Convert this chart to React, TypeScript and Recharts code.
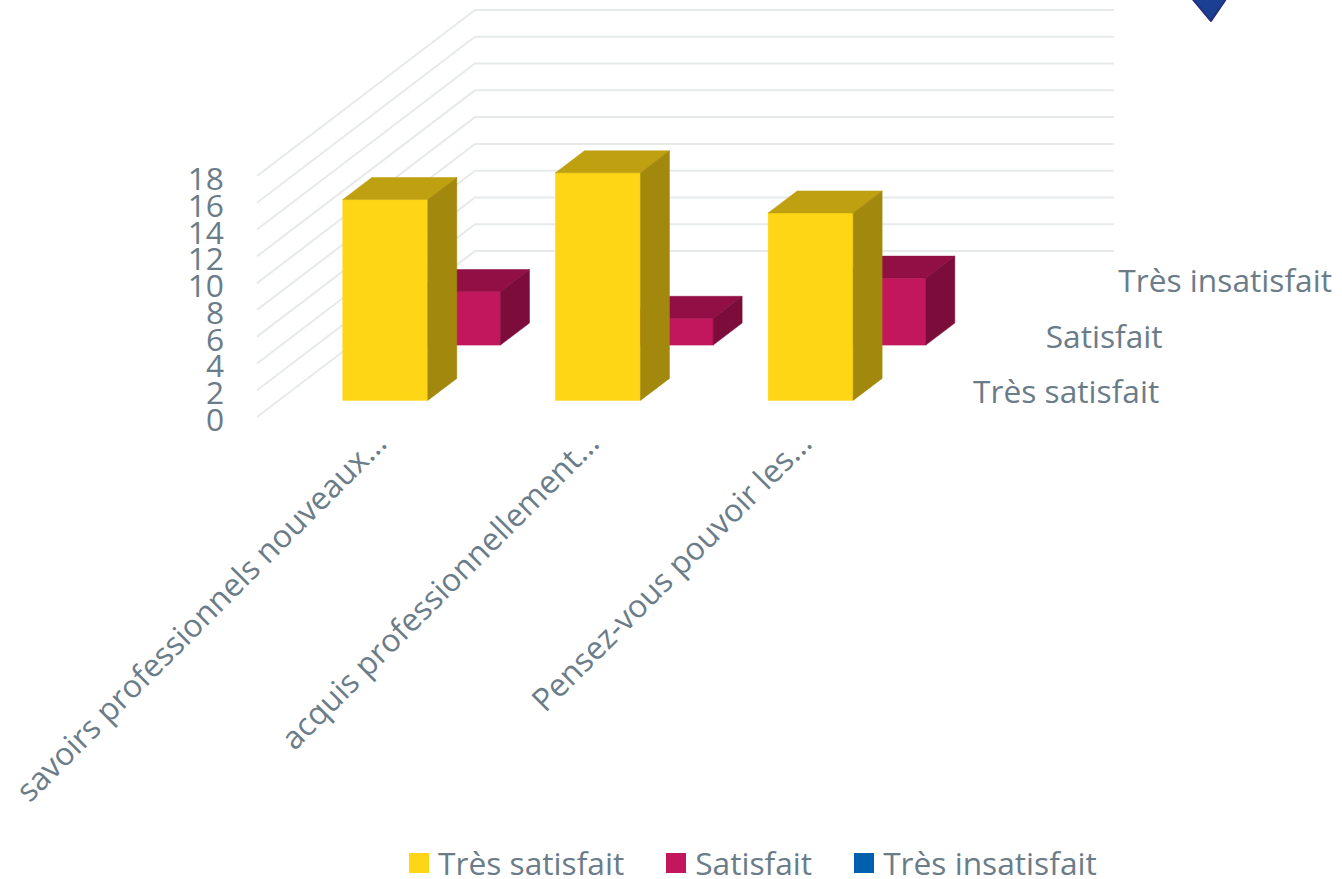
import React from 'react'
import { BarChart, Bar, XAxis, YAxis, CartesianGrid, Legend } from 'recharts'

const categories = [
  'savoirs professionnels nouveaux...',
  'acquis professionnellement...',
  'Pensez-vous pouvoir les...',
]
const tresSatisfait = [15, 17, 14]
const satisfait = [4, 2, 5]
const tresInsatisfait = [0, 0, 0]
const yTicks = [0, 2, 4, 6, 8, 10, 12, 14, 16, 18]
const seriesNames = ['Très satisfait', 'Satisfait', 'Très insatisfait']

const chartData = categories.map((name, i) => ({
  name,
  [seriesNames[0]]: tresSatisfait[i],
  [seriesNames[1]]: satisfait[i],
  [seriesNames[2]]: tresInsatisfait[i],
}))

const textColor = '#6b7c89'
const gridColor = '#e7eaeb'
const font = '"Open Sans", sans-serif'
const fontSize = 31.7

// oblique projection of the depth axis
const wallDx = 218
const wallDy = 166
const rowCount = 3
const barDepthX = 29
const barDepthY = 22

const rowDx = (row: number) => (wallDx / rowCount) * (row + 0.3)
const rowDy = (row: number) => (wallDy / rowCount) * (row + 0.3)

function Bar3D(props: any) {
  const { x, y, width, height, fill, row, topColor, sideColor } = props
  if (!height || height <= 0) return null
  const left = x + rowDx(row)
  const right = left + width
  const top = y - rowDy(row)
  const bottom = top + height
  return (
    <g>
      <rect x={left} y={top} width={width} height={height} fill={fill} stroke={fill} strokeWidth={0.5} />
      <polygon
        points={`${left},${top} ${right},${top} ${right + barDepthX},${top - barDepthY} ${left + barDepthX},${top - barDepthY}`}
        fill={topColor}
        stroke={topColor}
        strokeWidth={0.5}
      />
      <polygon
        points={`${right},${top} ${right + barDepthX},${top - barDepthY} ${right + barDepthX},${bottom - barDepthY} ${right},${bottom}`}
        fill={sideColor}
        stroke={sideColor}
        strokeWidth={0.5}
      />
    </g>
  )
}

function WallLine(props: any) {
  const { x1, y1, x2, index } = props
  return (
    <polyline
      key={index}
      points={`${x1},${y1} ${x1 + wallDx},${y1 - wallDy} ${x2 + wallDx + 1},${y1 - wallDy}`}
      fill="none"
      stroke={gridColor}
      strokeWidth={2}
    />
  )
}

function ValueTick(props: any) {
  const { x, y, payload } = props
  return (
    <text x={x} y={y + 14} textAnchor="end" fontSize={fontSize} fontFamily={font} fill={textColor}>
      {payload.value}
    </text>
  )
}

function CategoryTick(props: any) {
  const { x, y, payload } = props
  return (
    <text
      x={x + 25}
      y={y + 20}
      textAnchor="end"
      fontSize={fontSize}
      fontFamily={font}
      fill={textColor}
      transform={`rotate(-45 ${x + 25} ${y + 20})`}
    >
      {payload.value}
    </text>
  )
}

function LegendContent({ payload }: any) {
  const items = [...(payload || [])].sort((a: any, b: any) => seriesNames.indexOf(a.value) - seriesNames.indexOf(b.value))
  return (
    <div style={{ display: 'flex', alignItems: 'center', paddingLeft: 409, fontFamily: font, fontSize, color: textColor, lineHeight: '44px' }}>
      {items.map((item: any) => (
        <div key={item.value} style={{ display: 'flex', alignItems: 'center', marginRight: 42 }}>
          <span style={{ width: 20, height: 20, background: item.color, marginRight: 9 }} />
          <span>{item.value}</span>
        </div>
      ))}
    </div>
  )
}

export default function App() {
  return (
    <div style={{ position: 'absolute', left: 0, top: 0, width: 1342, height: 879, overflow: 'hidden' }}>
      <BarChart
        width={1342}
        height={879}
        data={chartData}
        margin={{ top: 176, right: 447, bottom: 0, left: 0 }}
        barSize={85}
        barGap={-85}
      >
        <CartesianGrid vertical={false} horizontal={(p: any) => <WallLine {...p} />} />
        <XAxis
          dataKey="name"
          height={462}
          interval={0}
          axisLine={false}
          tickLine={false}
          tick={<CategoryTick />}
        />
        <YAxis
          width={257}
          domain={[0, 18]}
          ticks={yTicks}
          interval={0}
          axisLine={false}
          tickLine={false}
          tickMargin={27}
          tick={<ValueTick />}
        />
        <Legend
          layout="horizontal"
          verticalAlign="middle"
          align="center"
          wrapperStyle={{ left: 0, top: 841, width: 1342 }}
          content={<LegendContent />}
        />
        <Bar
          dataKey={seriesNames[2]}
          fill="#0060ae"
          isAnimationActive={false}
          shape={(p: any) => <Bar3D {...p} row={2} topColor="#004a87" sideColor="#003f73" />}
        />
        <Bar
          dataKey={seriesNames[1]}
          fill="#c2175c"
          isAnimationActive={false}
          shape={(p: any) => <Bar3D {...p} row={1} topColor="#910f45" sideColor="#7c0c3a" />}
        />
        <Bar
          dataKey={seriesNames[0]}
          fill="#ffd616"
          isAnimationActive={false}
          shape={(p: any) => <Bar3D {...p} row={0} topColor="#bfa010" sideColor="#a3880e" />}
        />
        {seriesNames.map((name, row) => (
          <text
            key={name}
            x={973 + row * (wallDx / rowCount)}
            y={403 - row * (wallDy / rowCount)}
            fontSize={fontSize}
            fontFamily={font}
            fill={textColor}
          >
            {name}
          </text>
        ))}
        <polygon points="1190,-4 1228,-4 1211,21" fill="#1b3f93" stroke="#252f7a" strokeWidth={2} strokeLinejoin="round" />
      </BarChart>
    </div>
  )
}
